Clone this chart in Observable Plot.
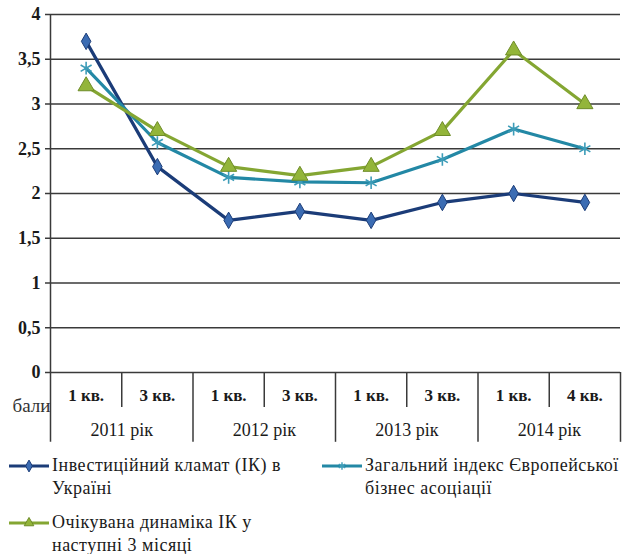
<!DOCTYPE html>
<html><head><meta charset="utf-8">
<script src="https://cdn.jsdelivr.net/npm/d3@7"></script>
<script src="https://cdn.jsdelivr.net/npm/@observablehq/plot@0.6"></script>
<style>
*{font-family:"Liberation Serif","Times New Roman",Tinos,serif !important;}
body{margin:0;background:#fff;}
#wrap{position:relative;width:622px;height:554px;overflow:hidden;}
#legend{position:relative;width:622px;height:104px;}
.item{position:absolute;font-size:18px;line-height:23px;color:#1a1a1a;letter-spacing:0.5px;}
.item svg{position:absolute;left:-44px;top:4px;}
</style></head><body><div id="wrap" style="font-family:'Liberation Serif'"><div id="chart"></div><div id="legend">
<div class="item" id="i0" style="left:52px;top:4px;font-family:'Liberation Serif'">Інвестиційний кламат (ІК) в<br>Україні</div>
<div class="item" id="i1" style="left:365px;top:4px;font-family:'Liberation Serif'">Загальний індекс Європейської<br>бізнес асоціації</div>
<div class="item" id="i2" style="left:52px;top:61px;font-family:'Liberation Serif'">Очікувана динаміка ІК у<br>наступні 3 місяці</div>
</div></div>
<script>
const quarters = ["1 кв.","3 кв.","1 кв.","3 кв.","1 кв.","3 кв.","1 кв.","4 кв."];
const years = ["2011 рік","2012 рік","2013 рік","2014 рік"];
const climate = [3.7,2.3,1.7,1.8,1.7,1.9,2.0,1.9];
const ebaIndex = [3.4,2.57,2.18,2.13,2.12,2.38,2.72,2.5];
const expected = [3.2,2.7,2.3,2.2,2.3,2.7,3.6,3.0];
const yTicks = [0,0.5,1,1.5,2,2.5,3,3.5,4];
const seriesNames = ["Інвестиційний кламат (ІК) в Україні","Загальний індекс Європейської бізнес асоціації","Очікувана динаміка ІК у наступні 3 місяці"];
const yLabel = "бали";

const FONT = "'Liberation Serif'";
const styles = [
  {line:"#1b3c78", fill:"#3b6cb3", stroke:"#1b3c78", symbol:"diamond", r:5},
  {line:"#2388a5", fill:"none", stroke:"#3d9cb8", symbol:"asterisk", r:6},
  {line:"#84a632", fill:"#93b53a", stroke:"#6e8c28", symbol:"triangle", r:6}
];
const allSeries = [climate, ebaIndex, expected];
const rows = allSeries.flatMap((vals,s)=>vals.map((v,i)=>({i, x:i+0.5, v, s})));

const lineMarks = [];
allSeries.forEach((vals,s)=>{
  const st = styles[s];
  const d = rows.filter(r=>r.s===s);
  lineMarks.push(Plot.line(d,{x:"x",y:"v",stroke:st.line,strokeWidth:3.2}));
  lineMarks.push(Plot.dot(d,{x:"x",y:"v",symbol:()=>st.symbol,r:st.r,fill:st.fill,stroke:st.stroke,strokeWidth:st.symbol==="asterisk"?1.6:1}));
});

const chart = Plot.plot({
  width:622, height:450,
  marginLeft:50, marginRight:2, marginTop:14, marginBottom:78,
  style:{fontFamily:FONT, fontSize:"17px", color:"#1a1a1a", overflow:"visible"},
  x:{domain:[0,8], axis:null},
  y:{domain:[0,4]},
  symbol:{type:"identity"},
  marks:[
    Plot.gridY(yTicks,{stroke:"#3a3a3a", strokeOpacity:1, strokeWidth:1.5}),
    Plot.axisY(yTicks,{tickFormat:d=>String(d).replace(".",","), tickSize:5, tickPadding:5, fontSize:18, fontWeight:"bold", stroke:"#3a3a3a", strokeWidth:1.5, label:null}),
    Plot.ruleX([0],{y1:-0.78,y2:4,stroke:"#3a3a3a",strokeWidth:1.5}),
    Plot.ruleX([1,3,5,7],{y1:-0.39,y2:0,stroke:"#3a3a3a",strokeWidth:1.5}),
    Plot.ruleX([2,4,6,8],{y1:-0.78,y2:0,stroke:"#3a3a3a",strokeWidth:1.5}),
    Plot.text(quarters,{x:(d,i)=>i+0.5, y:-0.257, text:d=>d, fontSize:17, fontWeight:"bold", fill:"#1a1a1a"}),
    Plot.text(years,{x:(d,i)=>2*i+1, y:-0.648, text:d=>d, fontSize:18, fill:"#1a1a1a"}),
    Plot.text([yLabel],{x:0, y:-0.37, text:d=>d, dx:-38, textAnchor:"start", fontSize:19, fill:"#333"}),
    ...lineMarks
  ]
});
chart.querySelectorAll("text").forEach(t=>{t.setAttribute("font-family","Liberation Serif"); t.style.fontFamily=FONT;});
document.getElementById("chart").appendChild(chart);

styles.forEach((st,s)=>{
  const sw = d3.create("svg").attr("width",42).attr("height",16);
  sw.append("line").attr("x1",1).attr("x2",41).attr("y1",8).attr("y2",8).attr("stroke",st.line).attr("stroke-width",3.2);
  const sym = d3.symbol().type([d3.symbolDiamond,d3.symbolAsterisk,d3.symbolTriangle][s]).size(40);
  sw.append("path").attr("d",sym()).attr("transform","translate(21,8)").attr("fill",st.fill).attr("stroke",st.stroke).attr("stroke-width",s===1?1.4:1);
  document.getElementById("i"+s).appendChild(sw.node());
});
</script></body></html>
